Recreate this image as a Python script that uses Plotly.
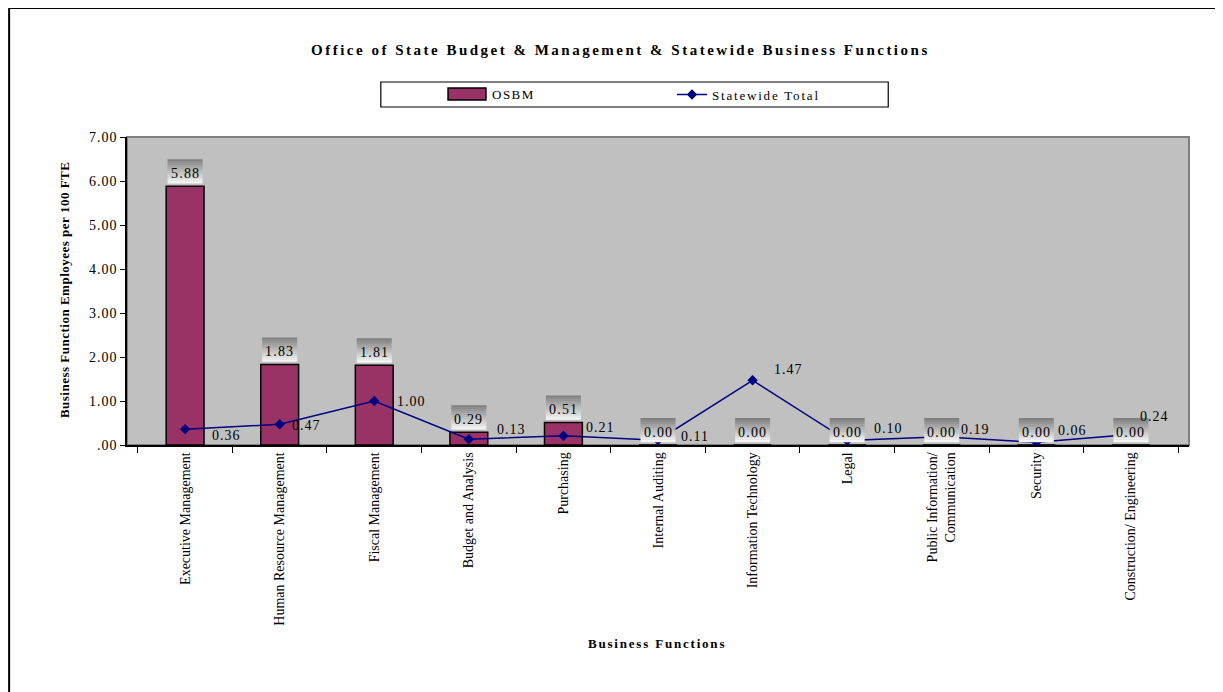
import plotly.graph_objects as go

categories = [
    "Executive Management",
    "Human Resource Management",
    "Fiscal Management",
    "Budget and Analysis",
    "Purchasing",
    "Internal Auditing",
    "Information Technology",
    "Legal",
    "Public Information/<br>Communication",
    "Security",
    "Construction/ Engineering",
]
osbm = [5.88, 1.83, 1.81, 0.29, 0.51, 0.00, 0.00, 0.00, 0.00, 0.00, 0.00]
statewide = [0.36, 0.47, 1.00, 0.13, 0.21, 0.11, 1.47, 0.10, 0.19, 0.06, 0.24]
ytick_vals = [0, 1, 2, 3, 4, 5, 6, 7]
ytick_text = [".00", "1.00", "2.00", "3.00", "4.00", "5.00", "6.00", "7.00"]

# label offsets (px) for the Statewide labels, relative to their points
line_label_dx = [41, 27, 37, 43, 37, 37, 36, 41, 34, 36, 24]
line_label_dy = [-6, -1, 0, 10, 8, 4, 11, 12, 7, 12, 18]

FONT = "Liberation Serif, Times New Roman, serif"
BAR_COLOR = "#993366"
LINE_COLOR = "#000080"


def spaced(t, px=1.0):
    return f'<span style="letter-spacing:{px}px">{t}</span>'


fig = go.Figure()
fig.add_trace(go.Bar(
    x=categories, y=osbm, name="OSBM", showlegend=False,
    marker=dict(color=BAR_COLOR, line=dict(color="black", width=1.5)),
    width=0.4,
))
fig.add_trace(go.Scatter(
    x=categories, y=statewide, name=spaced("Statewide Total", 1.8),
    mode="lines+markers",
    line=dict(color=LINE_COLOR, width=1.5),
    marker=dict(symbol="diamond", size=8, color=LINE_COLOR),
))

annotations = []
shapes = [
    # plot area border (gray)
    dict(type="rect", xref="paper", yref="paper", x0=0, x1=1, y0=0, y1=1,
         line=dict(color="#808080", width=2), layer="below"),
    # legend box
    dict(type="rect", xref="paper", yref="paper", x0=0.239, x1=0.7168,
         y0=1.0974, y1=1.1786, line=dict(color="black", width=1.2),
         fillcolor="white", layer="below"),
    # OSBM legend swatch
    dict(type="rect", xref="paper", yref="paper", x0=0.3023, x1=0.338,
         y0=1.120, y1=1.159, line=dict(color="black", width=1.5),
         fillcolor=BAR_COLOR, layer="above"),
    # outer frame
    dict(type="rect", xref="paper", yref="paper", x0=-0.111, x1=1.0273,
         y0=-0.85, y1=1.4188, line=dict(color="black", width=2), layer="below"),
]

# gradient label boxes above bars (pixel-sized shapes anchored on data)
n_bands = 12
band_h = 2
box_bottom = 3
c_top = (0x80, 0x80, 0x80)
c_bot = (0xF4, 0xF4, 0xF4)
for idx, (cat, v) in enumerate(zip(categories, osbm)):
    for i in range(n_bands):
        t = i / (n_bands - 1)
        col = tuple(int(round(c_top[k] + (c_bot[k] - c_top[k]) * t)) for k in range(3))
        top = box_bottom + (n_bands - i) * band_h
        shapes.append(dict(
            type="rect", xref="x", yref="y",
            xsizemode="pixel", ysizemode="pixel",
            xanchor=idx, yanchor=v,
            x0=-17.5, x1=17.5, y0=top - band_h - 0.3, y1=top,
            fillcolor="rgb(%d,%d,%d)" % col, line=dict(width=0),
            layer="above",
        ))
    annotations.append(dict(
        x=cat, y=v, xref="x", yref="y", text=spaced(f"{v:.2f}", 1.2), showarrow=False,
        yanchor="middle", xanchor="center", yshift=13,
        font=dict(family=FONT, size=14, color="black"),
    ))

for cat, v, dx, dy in zip(categories, statewide, line_label_dx, line_label_dy):
    annotations.append(dict(
        x=cat, y=v, xref="x", yref="y", text=spaced(f"{v:.2f}", 1.0), showarrow=False,
        xanchor="center", yanchor="middle", xshift=dx, yshift=dy,
        font=dict(family=FONT, size=14, color="black"),
    ))

# legend text for OSBM
annotations.append(dict(
    x=(490 - 127) / 1062, y=1.138, xref="paper", yref="paper", showarrow=False,
    text=spaced("OSBM", 1.5), xanchor="left", yanchor="middle",
    font=dict(family=FONT, size=13, color="black"),
))

# title and axis titles
annotations.append(dict(
    x=0.4647, y=1.2825, xref="paper", yref="paper", showarrow=False,
    text="<b>" + spaced("Office of State Budget & Management & Statewide Business Functions", 2.5) + "</b>",
    font=dict(family=FONT, size=15, color="black"),
    xanchor="center", yanchor="middle",
))
annotations.append(dict(
    x=-0.0593, y=0.503, xref="paper", yref="paper", showarrow=False,
    text="<b>" + spaced("Business Function Employees per 100 FTE", 0.5) + "</b>", textangle=-90,
    font=dict(family=FONT, size=13, color="black"),
    xanchor="center", yanchor="middle",
))
annotations.append(dict(
    x=0.4995, y=-0.643, xref="paper", yref="paper", showarrow=False,
    text="<b>" + spaced("Business Functions", 1.8) + "</b>",
    font=dict(family=FONT, size=13, color="black"),
    xanchor="center", yanchor="middle",
))

fig.update_layout(
    width=1215, height=684,
    margin=dict(l=119, r=34, t=129, b=247, autoexpand=False),
    paper_bgcolor="white",
    plot_bgcolor="#C0C0C0",
    font=dict(family=FONT, size=12, color="black"),
    showlegend=True,
    legend=dict(
        orientation="h", x=(672 - 127) / 1062, y=1.138, xanchor="left", yanchor="middle",
        bgcolor="rgba(0,0,0,0)", borderwidth=0,
        font=dict(family=FONT, size=13, color="black"),
    ),
    bargap=0.6,
    annotations=annotations,
    shapes=shapes,
)
fig.update_xaxes(
    type="category", tickson="boundaries", ticks="outside", ticklen=6,
    tickcolor="black", tickwidth=1, showline=True, linecolor="black",
    linewidth=1.5, showgrid=False, tickangle=-90,
    tickfont=dict(family=FONT, size=14, color="black"),
)
fig.update_yaxes(
    range=[0, 7], tickvals=ytick_vals,
    ticktext=[spaced(t, 1.0) for t in ytick_text],
    ticks="outside", ticklen=5, tickcolor="black", tickwidth=1,
    showline=True, linecolor="black", linewidth=1.5,
    showgrid=False, zeroline=False,
    tickfont=dict(family=FONT, size=14, color="black"),
)

fig.write_html("out.html")
